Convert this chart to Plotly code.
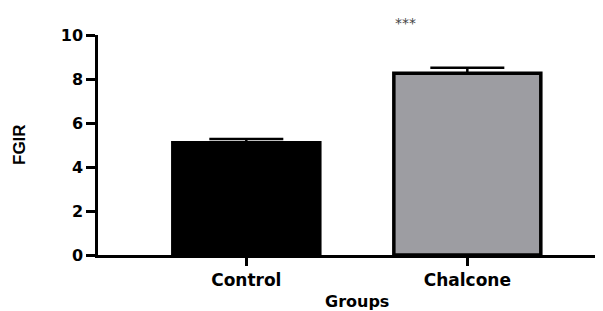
import plotly.graph_objects as go

categories = ["Control", "Chalcone"]
means = [5.1, 8.26]
errors = [0.17, 0.25]
fills = ["#000000", "#9d9da2"]
y_ticks = [0, 2, 4, 6, 8, 10]
sig_label = "***"

xpos = list(range(len(categories)))

fig = go.Figure()
fig.add_trace(go.Bar(
    x=xpos, y=means, width=0.665,
    marker=dict(color=fills, line=dict(color="#000000", width=3.5)),
    error_y=dict(type="data", symmetric=False, array=errors,
                 arrayminus=[0 for _ in errors], visible=True, color="#000000",
                 thickness=2.5, width=37),
    showlegend=False,
))

bold = dict(family="DejaVu Sans", weight="bold", color="#000000")

fig.update_layout(
    width=603, height=311,
    margin=dict(l=90, r=0, t=27, b=64),
    paper_bgcolor="white", plot_bgcolor="white",
    xaxis=dict(range=[-0.671, 1.65], tickvals=xpos, ticktext=categories,
               showline=True, linecolor="#000000", linewidth=2.5,
               ticks="outside", ticklen=8, tickwidth=2.5, tickcolor="#000000",
               tickfont=dict(size=17, **bold), showgrid=False, zeroline=False),
    yaxis=dict(range=[0, 10], tickvals=y_ticks,
               showline=True, linecolor="#000000", linewidth=2.5,
               ticks="outside", ticklen=9, tickwidth=2.5, tickcolor="#000000",
               tickfont=dict(size=16, **bold), showgrid=False, zeroline=False),
    annotations=[
        dict(text="FGIR", xref="paper", yref="paper", x=0, y=0.5,
             xanchor="center", yanchor="middle", textangle=-90, showarrow=False,
             xshift=-79,
             font=dict(size=17, family="Liberation Sans", weight="bold", color="#000000")),
        dict(text="Groups", xref="paper", yref="paper", x=(357 - 98) / 513, y=0,
             xanchor="center", yanchor="top", yshift=-35, showarrow=False,
             font=dict(size=16, **bold)),
        dict(text=sig_label, xref="x", yref="paper", x=0.72, y=1.0,
             xanchor="center", yanchor="bottom", yshift=2, showarrow=False,
             font=dict(size=14, family="DejaVu Sans", color="#444444")),
    ],
)

fig.write_html("out.html")
